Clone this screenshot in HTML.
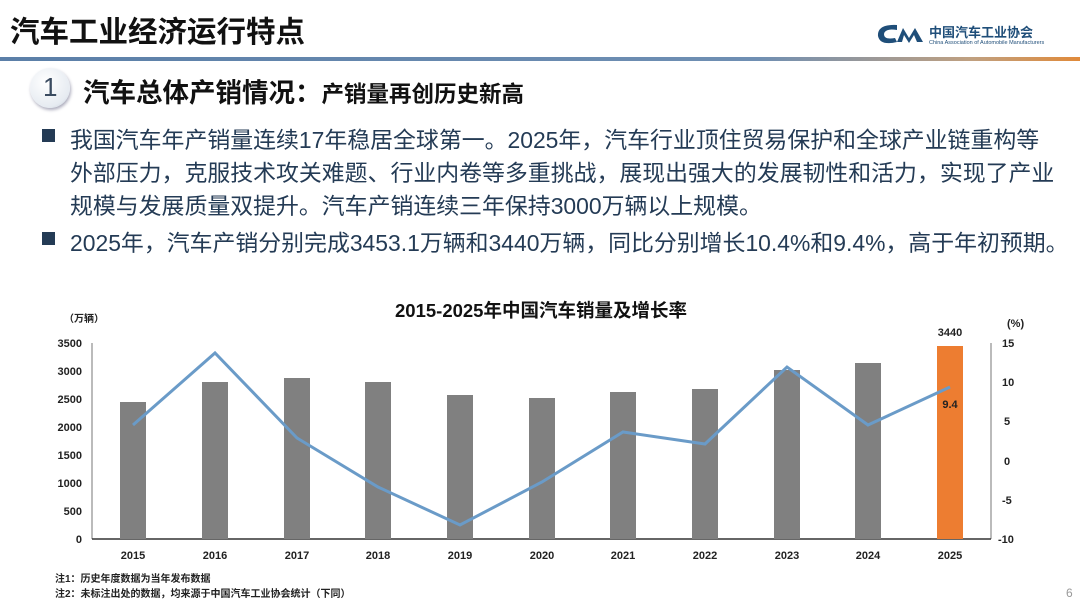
<!DOCTYPE html>
<html><head><meta charset="utf-8"><style>
*{margin:0;padding:0}
body{width:1080px;height:607px;background:#fff;position:relative;overflow:hidden;font-family:"Liberation Sans","Noto Sans CJK SC",sans-serif}
.a{position:absolute;white-space:nowrap}
.t{color:#243b55;font-size:22.9px;left:70px}
.sq{position:absolute;left:42px;width:13px;height:13px;background:#243b55}
</style></head><body>
<div class="a" style="left:10px;top:9px;font-size:29.5px;font-weight:bold;color:#111">汽车工业经济运行特点</div>
<div class="a" style="left:875px;top:22px;width:40px;height:22px">
<svg width="52" height="24"><path d="M22 3 Q2 2 3 14 Q5 24 22 20 L20 16 Q9 18 9 12 Q10 6 22 8Z" fill="#1f4e79"/><path d="M22 20 L28 6 L34 16 L40 6 L48 20 L42 20 L39 13 L34 21 L29 13 L27 20Z" fill="#1f4e79"/></svg></div>
<div class="a" style="left:929px;top:22px;font-size:13px;font-weight:bold;color:#1f4e79">中国汽车工业协会</div>
<div class="a" style="left:929px;top:40px;font-size:5.5px;color:#1f4e79">China Association of Automobile Manufacturers</div>
<div class="a" style="left:0;top:57px;width:1080px;height:4px;background:linear-gradient(90deg,#5b7fa8,#6f8fb3 70%,#c0a080 90%,#e08a3a)"></div>
<div class="a" style="left:30px;top:68px;width:40px;height:40px;border-radius:50%;background:radial-gradient(circle at 40% 35%,#fff,#e6ebf1 70%,#b8c4d2);box-shadow:1px 2px 3px #aab"></div>
<div class="a" style="left:43px;top:72px;font-size:26px;color:#3a4b60">1</div>
<div class="a" style="left:83px;top:71px;font-size:26.5px;font-weight:bold;color:#111">汽车总体产销情况：<span style="font-size:22.5px">产销量再创历史新高</span></div>
<div class="sq" style="top:129px"></div>
<div class="a t" style="top:121px">我国汽车年产销量连续17年稳居全球第一。2025年，汽车行业顶住贸易保护和全球产业链重构等</div>
<div class="a t" style="top:154px">外部压力，克服技术攻关难题、行业内卷等多重挑战，展现出强大的发展韧性和活力，实现了产业</div>
<div class="a t" style="top:187px">规模与发展质量双提升。汽车产销连续三年保持3000万辆以上规模。</div>
<div class="sq" style="top:232px"></div>
<div class="a t" style="top:224px">2025年，汽车产销分别完成3453.1万辆和3440万辆，同比分别增长10.4%和9.4%，高于年初预期。</div>
<svg class="a" style="left:0;top:0" width="1080" height="607" font-family="Liberation Sans,Noto Sans CJK SC,sans-serif">
<text x="541" y="317" font-size="18.5" font-weight="bold" text-anchor="middle" fill="#111">2015-2025年中国汽车销量及增长率</text>
<text x="64" y="322" font-size="10" font-weight="bold" fill="#222">（万辆）</text>
<text x="1007" y="327" font-size="11" font-weight="bold" fill="#222">(%)</text>
<g font-size="11" font-weight="bold" fill="#222" text-anchor="end">
<text x="82" y="347">3500</text><text x="82" y="375">3000</text><text x="82" y="403">2500</text><text x="82" y="431">2000</text><text x="82" y="459">1500</text><text x="82" y="487">1000</text><text x="82" y="515">500</text><text x="82" y="543">0</text>
</g>
<g font-size="11" font-weight="bold" fill="#222">
<text x="1002" y="347">15</text><text x="1002" y="386">10</text><text x="1004" y="425">5</text><text x="1004" y="465">0</text><text x="1002" y="504">-5</text><text x="998" y="543">-10</text>
</g>
<line x1="92" y1="343" x2="92" y2="539" stroke="#777"/>
<line x1="991" y1="343" x2="991" y2="539" stroke="#777"/>
<line x1="92" y1="539" x2="991" y2="539" stroke="#333" stroke-width="1.5"/>
<g fill="#808080">
<rect x="120" y="402" width="26" height="137"/>
<rect x="202" y="382" width="26" height="157"/>
<rect x="284" y="378" width="26" height="161"/>
<rect x="365" y="382" width="26" height="157"/>
<rect x="447" y="395" width="26" height="144"/>
<rect x="529" y="398" width="26" height="141"/>
<rect x="610" y="392" width="26" height="147"/>
<rect x="692" y="389" width="26" height="150"/>
<rect x="774" y="370" width="26" height="169"/>
<rect x="855" y="363" width="26" height="176"/>
</g>
<rect x="937" y="346" width="26" height="193" fill="#ed7d31"/>
<polyline fill="none" stroke="#6a9bc8" stroke-width="3" points="133,425 215,353 297,438 378,487 460,525 542,482 623,432 705,444 787,367 868,425 950,387"/>
<text x="950" y="408" font-size="11" font-weight="bold" text-anchor="middle" fill="#222">9.4</text>
<text x="950" y="336" font-size="11" font-weight="bold" text-anchor="middle" fill="#222">3440</text>
<g font-size="11" font-weight="bold" fill="#222" text-anchor="middle">
<text x="133" y="559">2015</text><text x="215" y="559">2016</text><text x="297" y="559">2017</text><text x="378" y="559">2018</text><text x="460" y="559">2019</text><text x="542" y="559">2020</text><text x="623" y="559">2021</text><text x="705" y="559">2022</text><text x="787" y="559">2023</text><text x="868" y="559">2024</text><text x="950" y="559">2025</text>
</g>
<text x="55" y="582" font-size="10" font-weight="bold" fill="#222">注1：历史年度数据为当年发布数据</text>
<text x="55" y="597" font-size="10" font-weight="bold" fill="#222">注2：未标注出处的数据，均来源于中国汽车工业协会统计（下同）</text>
<text x="1066" y="597" font-size="12" fill="#999">6</text>
</svg>
</body></html>
